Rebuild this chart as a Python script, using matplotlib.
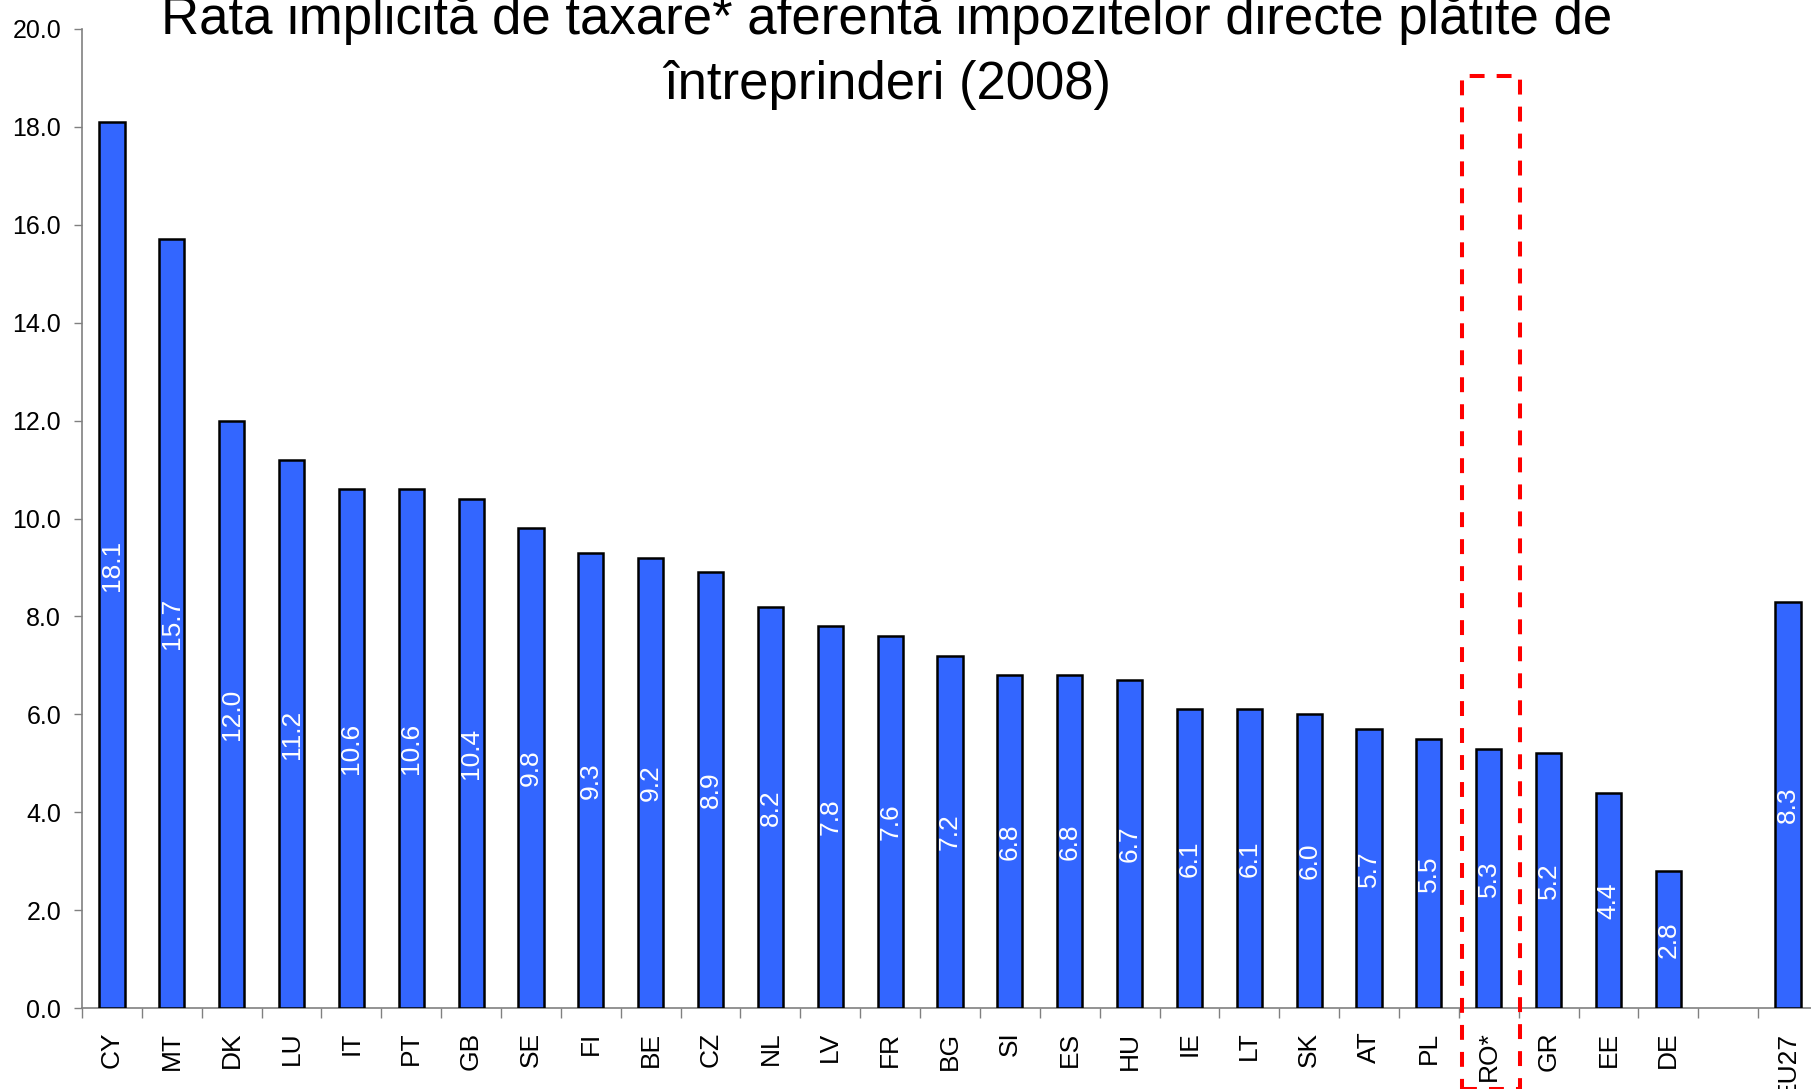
import matplotlib.pyplot as plt
from matplotlib.patches import Rectangle
import numpy as np

plt.rcParams['font.family'] = ['Liberation Sans', 'DejaVu Sans']

# data
countries = ['CY', 'MT', 'DK', 'LU', 'IT', 'PT', 'GB', 'SE', 'FI', 'BE', 'CZ', 'NL', 'LV', 'FR',
             'BG', 'SI', 'ES', 'HU', 'IE', 'LT', 'SK', 'AT', 'PL', 'RO*', 'GR', 'EE', 'DE']
rates = [18.1, 15.7, 12.0, 11.2, 10.6, 10.6, 10.4, 9.8, 9.3, 9.2, 8.9, 8.2, 7.8, 7.6,
         7.2, 6.8, 6.8, 6.7, 6.1, 6.1, 6.0, 5.7, 5.5, 5.3, 5.2, 4.4, 2.8]
eu_label = 'EU27'
eu_rate = 8.3
highlight = 'RO*'

labels = countries + [eu_label]
values = rates + [eu_rate]
# one empty slot between the countries and the EU average
x = np.append(np.arange(len(countries)), len(countries) + 1)

W, H = 1811, 1089
fig = plt.figure(figsize=(W / 100, H / 100), dpi=100)
ax = fig.add_axes([82 / W, (H - 1008) / H, (1818 - 82) / W, 979 / H])

ax.bar(x, values, width=0.42, color='#3366FF', edgecolor='black', linewidth=1.8, zorder=3)

for xi, v in zip(x, values):
    ax.text(xi, v / 2, f'{v:.1f}', rotation=90, ha='center', va='center',
            color='white', fontsize=19, zorder=4)

ax.set_xlim(-0.5, len(countries) + 1.5)
ax.set_ylim(0, 20)
ax.set_yticks(np.arange(0, 20.1, 2))
ax.set_yticklabels([f'{t:.1f}' for t in np.arange(0, 20.1, 2)], fontsize=18)
ax.tick_params(axis='y', length=6, width=1, color='#808080', pad=9)

ax.set_xticks(x)
ax.set_xticklabels(labels, rotation=90, fontsize=19, va='top')
ax.tick_params(axis='x', which='major', length=0, pad=17)
ax.set_xticks(np.arange(-0.5, len(countries) + 1.5, 1), minor=True)
ax.tick_params(axis='x', which='minor', length=7, width=1, color='#808080')

for s in ['top', 'right']:
    ax.spines[s].set_visible(False)
for s in ['left', 'bottom']:
    ax.spines[s].set_color('#808080')
    ax.spines[s].set_linewidth(1.2)

# dashed box around Romania
ri = countries.index(highlight)
box = Rectangle((ri - 0.45, -1.65), 0.98, 19.04 + 1.65, fill=False, edgecolor='#FF0000',
                linewidth=2.9, linestyle=(0, (3.7, 3)), clip_on=False, zorder=5)
ax.add_patch(box)

fig.text(887 / W, 1 - 34 / H, 'Rata implicită de taxare* aferentă impozitelor directe plătite de',
         ha='center', va='baseline', fontsize=38)
fig.text(887 / W, 1 - 99 / H, 'întreprinderi (2008)', ha='center', va='baseline', fontsize=38)

fig.savefig('out.png', dpi=100)
